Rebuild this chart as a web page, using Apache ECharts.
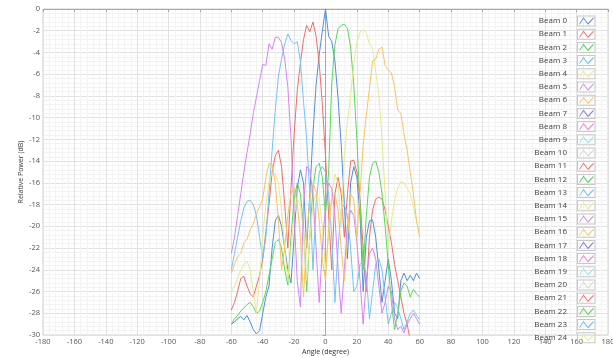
<!DOCTYPE html>
<html>
<head>
<meta charset="utf-8">
<script src="https://cdn.jsdelivr.net/npm/echarts@6/dist/echarts.min.js"></script>
<style>
  html, body { margin: 0; padding: 0; background: #fff; }
  #chart { width: 613px; height: 358px; }
</style>
</head>
<body>
<div id="chart"></div>
<script>
  // sample angles (degree), shared by every beam trace
  const angles = [-60, -58, -56, -54, -52, -50, -48, -46, -44, -42,
    -40, -38, -36, -34, -32, -30, -28, -26, -24, -22,
    -20, -18, -16, -14, -12, -10, -8, -6, -4, -2,
    0,
    2, 4, 6, 8, 10, 12, 14, 16, 18, 20,
    22, 24, 26, 28, 30, 32, 34, 36, 38, 40,
    42, 44, 46, 48, 50, 52, 54, 56, 58, 60]

  // relative power (dB)
  const beam0 = [-29, -28.8, -28.5, -28.3, -28.6, -28.2, -28.8, -29.5, -29.9, -29.6,
    -28, -26.5, -25.5, -22, -19.5, -19, -20, -22, -24, -25.2,
    -21, -16.5, -14.8, -16, -22, -17, -11.5, -7, -4.2, -2,
    0,
    -2.5, -3, -4.8, -8.2, -12.5, -18, -23, -16, -14.5, -15.5,
    -19, -26, -21, -19.5, -19.4, -21, -24, -27, -25, -23,
    -25, -28, -28.5, -25, -24.3, -25, -24.5, -25, -24.3, -24.8]
  const beam1 = [-27.7, -27, -26, -24.8, -24.6, -25.5, -26.2, -26.5, -25.5, -24.5,
    -23, -20.5, -18, -15, -13.5, -13, -14.5, -18, -22, -16.5,
    -11.5, -7.5, -5, -2.8, -1.5, -2.1, -1.2, -2.5, -5, -8.8,
    -13.5,
    -19, -24, -17, -15.5, -17, -21, -17, -14, -13.9, -15,
    -17.5, -22, -26, -21, -18.5, -17.5, -17.3, -17.5, -18.5, -20,
    -21.5, -23.5, -25, -26.5, -28, -29, -30.5, -31.5, -32, -32]
  const beam2 = [-29, -28.5, -28.2, -27.8, -27.5, -27.2, -27, -27.4, -28, -27.8,
    -27, -26, -24.5, -23, -21.5, -21.2, -22, -24, -25.4, -21,
    -17.5, -16, -17, -20, -26, -21, -16.5, -14.5, -14.2, -15.5,
    -19,
    -15, -6.8, -3.3, -1.8, -1.5, -1.4, -1.8, -3.5, -7, -12,
    -18, -24, -19, -15.5, -14.2, -14, -15, -17, -20, -23.5,
    -27, -29.5, -28, -26, -25.2, -25.5, -26.5, -25.8, -26.2, -26.5]
  const beam3 = [-24, -22.5, -21, -19.5, -18.3, -17.7, -17.6, -18, -19, -21,
    -23, -21, -17, -13, -9.3, -6.2, -4.6, -3.2, -2.3, -2.9,
    -3.2, -3, -4.8, -8.5, -12, -17, -24, -18, -15, -14.5,
    -15,
    -17, -21, -27, -22, -18.5, -18, -19, -22, -26, -25.5,
    -23.5, -23.2, -24.5, -28.5, -26, -23.5, -23, -24, -26.5, -29,
    -28, -27, -27.5, -28.5, -29.5, -28.8, -28, -27.7, -28.2, -28.6]
  const beam4 = [-26, -25.5, -24.8, -24, -23.5, -23.2, -24, -26, -28, -25,
    -21, -18, -16, -15, -15.2, -16, -18.5, -22, -25, -22,
    -19, -17.5, -18, -20.5, -25, -21, -18, -17, -17.5, -20,
    -24,
    -21, -17, -15.2, -16, -20, -13.5, -10.4, -8, -5, -3.1,
    -2.1, -1.9, -2.2, -3.2, -3.6, -5.8, -7.9, -12, -17, -22,
    -19.5, -17.6, -16.5, -15.9, -16, -16.5, -17, -18.2, -19.5, -20.6]
  const beam5 = [-22.5, -21, -19, -17, -15, -13.2, -11.5, -9.6, -8.1, -6.6,
    -5.1, -5.2, -3.2, -3.7, -2.6, -2.6, -3.1, -4.6, -7.2, -11.8,
    -19, -25, -27.4, -18, -14.5, -14.8, -17, -22, -27, -22,
    -18,
    -16, -16.5, -19, -24, -28, -24, -20, -18.5, -19, -21.5,
    -25, -29, -25, -22.5, -22, -23, -25.5, -28, -27, -25.5,
    -26, -28.5, -29.5, -29.2, -29.8, -29, -28.5, -28, -28.5, -29]
  const beam6 = [-24.3, -23.5, -22.8, -22.5, -21.5, -21.2, -20.3, -19.8, -18.8, -18.2,
    -17.5, -15.5, -14.2, -14.3, -16, -19.5, -24, -22, -19, -17,
    -16.5, -17.8, -21, -26.5, -21, -17.5, -16, -16.8, -19.5, -23,
    -25,
    -20, -17.5, -17, -18.5, -22, -25, -21, -17, -17.5, -21,
    -17, -12.5, -9.8, -7.3, -4.8, -4.6, -3.7, -3.5, -5.2, -5.6,
    -5.9, -7.1, -9.3, -9.6, -11.5, -13, -15, -17, -19.5, -21]

  // beams 7..24 only appear in the legend
  const beamValues = [beam0, beam1, beam2, beam3, beam4, beam5, beam6]

  const beamNames = ['Beam 0', 'Beam 1', 'Beam 2', 'Beam 3', 'Beam 4', 'Beam 5', 'Beam 6',
    'Beam 7', 'Beam 8', 'Beam 9', 'Beam 10', 'Beam 11', 'Beam 12', 'Beam 13', 'Beam 14',
    'Beam 15', 'Beam 16', 'Beam 17', 'Beam 18', 'Beam 19', 'Beam 20', 'Beam 21', 'Beam 22',
    'Beam 23', 'Beam 24']
  const beamColors = ['#4f8fd6', '#f06c6c', '#58d858', '#74c4f2', '#e6ea8c', '#d486f0',
    '#f6c462', '#8a7ee6', '#f28ad8', '#8ee6ea', '#d2d2d2',
    '#f06c6c', '#58d858', '#74c4f2', '#e6ea8c', '#d486f0', '#f6c462', '#8a7ee6', '#f28ad8',
    '#8ee6ea', '#d2d2d2', '#f06c6c', '#58d858', '#74c4f2', '#e6ea8c']

  const FONT = 'Open Sans, Noto Sans, sans-serif'
  const labelStyle = { fontSize: 7.5, color: '#555', fontFamily: FONT }
  const axisGray = '#a8a8a8'
  // both legend icons live in a 24x12 box; the tiny corner triangles only fix the bounds
  const BOUNDS = 'M0,0 L0.01,0 L0,0.01 Z M24,12 L23.99,12 L24,11.99 Z '
  const ZIGZAG = 'path://' + BOUNDS +
    'M7.5,8.2 L11.5,2.2 L16,8.2 L21.5,2.2 L21.5,3.8 L16,9.8 L11.5,3.8 L7.5,9.8 Z'
  const FRAME = 'path://' + BOUNDS +
    'M5,0.5 L23.5,0.5 L23.5,11.5 L5,11.5 Z M6,1.5 L6,10.5 L22.5,10.5 L22.5,1.5 Z'

  const legendBase = {
    orient: 'vertical',
    right: 17,
    top: 15,
    height: 340,
    padding: 0,
    align: 'right',
    itemWidth: 24,
    itemHeight: 12,
    itemGap: 1.2,
    data: beamNames
  }

  const series = beamNames.map((name, i) => ({
    name: name,
    type: 'line',
    color: beamColors[i],
    data: beamValues[i] ? angles.map((a, k) => [a, beamValues[i][k]]) : [],
    symbol: 'none',
    lineStyle: { width: 1 },
    clip: true,
    animation: false
  }))

  const chart = echarts.init(document.getElementById('chart'))
  chart.setOption({
    animation: false,
    grid: {
      left: 43, right: 5, top: 9, bottom: 23,
      outerBoundsMode: 'none',
      show: true, borderColor: '#d0d0d0', borderWidth: 1
    },
    xAxis: {
      type: 'value',
      min: -180,
      max: 180,
      interval: 20,
      name: 'Angle (degree)',
      nameLocation: 'middle',
      nameGap: 13,
      nameMoveOverlap: false,
      nameTextStyle: { fontSize: 7, color: '#333', fontFamily: FONT },
      axisLine: { lineStyle: { color: axisGray } },
      axisTick: { show: true, length: 3, lineStyle: { color: axisGray } },
      axisLabel: Object.assign({ margin: 3 }, labelStyle),
      splitLine: { lineStyle: { color: '#e2e2e2' } },
      minorSplitLine: { show: true, lineStyle: { color: '#f3f3f3' } },
      minorTick: { show: false, splitNumber: 5 }
    },
    yAxis: {
      type: 'value',
      min: -30,
      max: 0,
      interval: 2,
      name: 'Relative Power (dB)',
      nameLocation: 'middle',
      nameGap: 19,
      nameMoveOverlap: false,
      nameTextStyle: { fontSize: 7, color: '#333', fontFamily: FONT },
      axisLine: { show: true, lineStyle: { color: axisGray } },
      axisTick: { show: true, length: 3, lineStyle: { color: axisGray } },
      axisLabel: Object.assign({ margin: 3 }, labelStyle),
      splitLine: { lineStyle: { color: '#e2e2e2' } },
      minorSplitLine: { show: true, lineStyle: { color: '#f3f3f3' } },
      minorTick: { show: false, splitNumber: 5 }
    },
    legend: [
      // grey frames behind the icons, text hidden so the rows line up
      Object.assign({}, legendBase, {
        icon: FRAME,
        z: 4,
        itemStyle: { color: '#c8c8c8', borderWidth: 0 },
        textStyle: { fontSize: 8, color: 'rgba(0,0,0,0)', fontFamily: FONT }
      }),
      Object.assign({}, legendBase, {
        icon: ZIGZAG,
        z: 5,
        itemStyle: { borderWidth: 0 },
        textStyle: { fontSize: 8, color: '#444', fontFamily: FONT }
      })
    ],
    series: series
  })
</script>
</body>
</html>
